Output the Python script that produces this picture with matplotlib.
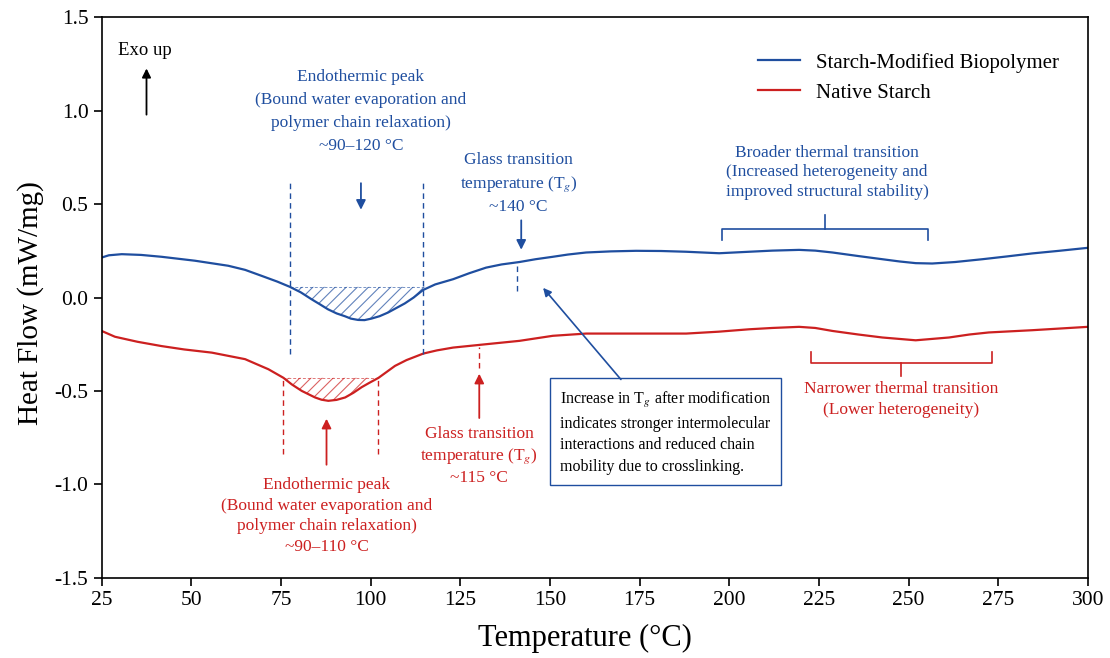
import numpy as np
import matplotlib
matplotlib.use('Agg')
import matplotlib.pyplot as plt

plt.rcParams['font.family'] = ['Liberation Serif', 'DejaVu Serif']
plt.rcParams['mathtext.fontset'] = 'stix'
plt.rcParams['hatch.linewidth'] = 0.8
plt.rcParams['axes.unicode_minus'] = False

# Temperatures and heat flow
temp_mod = [25, 27, 30.6, 36, 41.7, 51, 60.3, 65, 69.6, 74, 77.5, 80.5, 83.5, 86,
            88.1, 90.5, 92.8, 94.5, 96.5, 98.3, 100.2, 102.5, 104.9, 107, 109.5,
            112, 114.6, 118, 123, 127.5, 132.2, 136.5, 141.5, 146, 150.8, 155,
            160.1, 167, 174, 181, 188, 197.2, 205.6, 212, 219.5, 224, 228.8, 236,
            242.7, 247.5, 252, 256.6, 263, 270.6, 277.5, 284.5, 292, 300]
flow_mod = [0.214, 0.226, 0.232, 0.228, 0.218, 0.197, 0.17, 0.148, 0.116, 0.085,
            0.057, 0.028, -0.009, -0.038, -0.063, -0.085, -0.10, -0.113, -0.12,
            -0.121, -0.113, -0.1, -0.08, -0.058, -0.032, 0.0, 0.04, 0.07, 0.098,
            0.13, 0.16, 0.177, 0.19, 0.205, 0.218, 0.23, 0.241, 0.247, 0.25,
            0.249, 0.245, 0.237, 0.245, 0.251, 0.255, 0.251, 0.241, 0.222, 0.205,
            0.193, 0.184, 0.182, 0.19, 0.205, 0.22, 0.236, 0.25, 0.266]

temp_nat = [25, 28.7, 35, 41.7, 48, 55.7, 65, 68, 71.5, 75.7, 78, 80.8, 84.5, 86.3,
            88.2, 90.5, 92.9, 95.2, 97.5, 99.8, 102.2, 104.5, 106.8, 110, 114.7,
            118.5, 123, 132.2, 141.5, 150.8, 160.1, 174, 188, 197, 205.6, 212,
            219.5, 224, 228.8, 236, 242.7, 252, 261.3, 267, 272.4, 284.5, 300]
flow_nat = [-0.179, -0.21, -0.237, -0.26, -0.278, -0.295, -0.33, -0.355, -0.384,
            -0.43, -0.465, -0.50, -0.535, -0.547, -0.553, -0.548, -0.535, -0.51,
            -0.48, -0.455, -0.43, -0.398, -0.366, -0.335, -0.30, -0.283, -0.268,
            -0.25, -0.232, -0.205, -0.193, -0.193, -0.193, -0.183, -0.17, -0.163,
            -0.157, -0.163, -0.179, -0.198, -0.214, -0.229, -0.214, -0.198,
            -0.187, -0.175, -0.157]

labels = ['Starch-Modified Biopolymer', 'Native Starch']

# endothermic peak windows (start, end, hatch level)
peak_mod = (77.5, 114.6, 0.057)
peak_nat = (75.7, 102.0, -0.43)
tg_mod = 141.5
tg_nat = 130.3
brace_mod = (198.0, 255.3, 226.7)
brace_nat = (222.8, 273.2, 248.0)

blue = '#1f4e9f'
red = '#cc2020'

fig = plt.figure(figsize=(11.1, 6.58), dpi=100)
ax = fig.add_axes([0.0916, 0.122, 0.8884, 0.8517])

ax.plot(temp_mod, flow_mod, color=blue, lw=1.6, label=labels[0])
ax.plot(temp_nat, flow_nat, color=red, lw=1.6, label=labels[1])

# hatched endothermic areas
for T, F, pk, c in [(temp_mod, flow_mod, peak_mod, blue),
                    (temp_nat, flow_nat, peak_nat, red)]:
    T = np.array(T)
    F = np.array(F)
    lo, hi, lev = pk
    m = (F <= lev) & (T > lo - 5) & (T < hi + 5)
    ax.fill_between(T, F, lev, where=m, interpolate=True, facecolor='none',
                    edgecolor=c, hatch='///', lw=0, alpha=0.7)
    ax.hlines(lev, lo, hi, colors=c, linestyles=(0, (3, 2)), lw=0.7, alpha=0.6)

# dashed window boundaries
ax.vlines([peak_mod[0], peak_mod[1]], -0.305, 0.627, colors=blue,
          linestyles=(0, (4, 3)), lw=1.0)
ax.vlines([peak_nat[0], peak_nat[1]], -0.84, -0.43, colors=red,
          linestyles=(0, (4, 3)), lw=1.0)
ax.vlines(tg_mod - 0.6, 0.036, 0.18, colors=blue, linestyles=(0, (4, 3)), lw=1.0)
ax.vlines(tg_nat, -0.375, -0.264, colors=red, linestyles=(0, (4, 3)), lw=1.0)

arr = dict(arrowstyle='-|>', lw=1.3, mutation_scale=14)

# blue annotations
ax.annotate('', xy=(97.3, 0.455), xytext=(97.3, 0.627),
            arrowprops=dict(arr, color=blue))
ax.text(97.3, 0.995, 'Endothermic peak\n(Bound water evaporation and\n'
        'polymer chain relaxation)\n~90–120 °C', color=blue, fontsize=12.5,
        ha='center', va='center', linespacing=1.59)
ax.annotate('', xy=(142.0, 0.241), xytext=(142.0, 0.428),
            arrowprops=dict(arr, color=blue))
ax.text(141.3, 0.61, 'Glass transition\ntemperature (T$_g$)\n~140 °C', color=blue,
        fontsize=12.5, ha='center', va='center', linespacing=1.42)

# red annotations
ax.annotate('', xy=(87.7, -0.634), xytext=(87.7, -0.91),
            arrowprops=dict(arr, color=red))
ax.text(87.7, -1.17, 'Endothermic peak\n(Bound water evaporation and\n'
        'polymer chain relaxation)\n~90–110 °C', color=red, fontsize=12.5,
        ha='center', va='center', linespacing=1.4)
ax.annotate('', xy=(tg_nat, -0.393), xytext=(tg_nat, -0.66),
            arrowprops=dict(arr, color=red))
ax.text(tg_nat, -0.848, 'Glass transition\ntemperature (T$_g$)\n~115 °C', color=red,
        fontsize=12.5, ha='center', va='center', linespacing=1.31)

# explanation box
ax.text(152.9, -0.723, 'Increase in T$_g$ after modification\n'
        'indicates stronger intermolecular\ninteractions and reduced chain\n'
        'mobility due to crosslinking.', color='black', fontsize=11.5,
        ha='left', va='center', linespacing=1.45,
        bbox=dict(boxstyle='square,pad=0.62', facecolor='white', edgecolor=blue,
                  lw=1.0))
ax.annotate('', xy=(147.6, 0.063), xytext=(170.3, -0.45),
            arrowprops=dict(arrowstyle='-|>', lw=1.2, mutation_scale=12, color=blue))

# braces
def brace(x0, x1, xc, y_end, y_bar, y_tip, c):
    ax.plot([x0, x0, x1, x1], [y_end, y_bar, y_bar, y_end], color=c, lw=1.2)
    ax.plot([xc, xc], [y_bar, y_tip], color=c, lw=1.2)

brace(brace_mod[0], brace_mod[1], brace_mod[2], 0.307, 0.366, 0.44, blue)
brace(brace_nat[0], brace_nat[1], brace_nat[2], -0.29, -0.348, -0.42, red)
ax.text(227.3, 0.67, 'Broader thermal transition\n(Increased heterogeneity and\n'
        'improved structural stability)', color=blue, fontsize=12.5,
        ha='center', va='center', linespacing=1.32)
ax.text(248.0, -0.547, 'Narrower thermal transition\n(Lower heterogeneity)',
        color=red, fontsize=12.5, ha='center', va='center', linespacing=1.43)

# exo up
ax.text(37.1, 1.32, 'Exo up', fontsize=13.5, ha='center', va='center')
ax.annotate('', xy=(37.5, 1.241), xytext=(37.5, 0.964),
            arrowprops=dict(arrowstyle='-|>', lw=1.3, mutation_scale=13, color='black'))

ax.set_xlim(25, 300)
ax.set_ylim(-1.5, 1.5)
ax.set_xticks(np.arange(25, 301, 25))
ax.set_yticks([-1.5, -1.0, -0.5, 0.0, 0.5, 1.0, 1.5])
ax.tick_params(direction='out', length=6, width=1.2, labelsize=15.5)
for s in ax.spines.values():
    s.set_linewidth(1.2)
ax.set_xlabel('Temperature (°C)', fontsize=22)
ax.set_ylabel('Heat Flow (mW/mg)', fontsize=21)
ax.xaxis.set_label_coords(0.49, -0.082)
ax.yaxis.set_label_coords(-0.058, 0.49)

ax.legend(loc='upper right', bbox_to_anchor=(0.99, 0.97), frameon=False,
          fontsize=15, handlelength=2.0, labelspacing=0.5)

fig.savefig('out.png', dpi=100)
